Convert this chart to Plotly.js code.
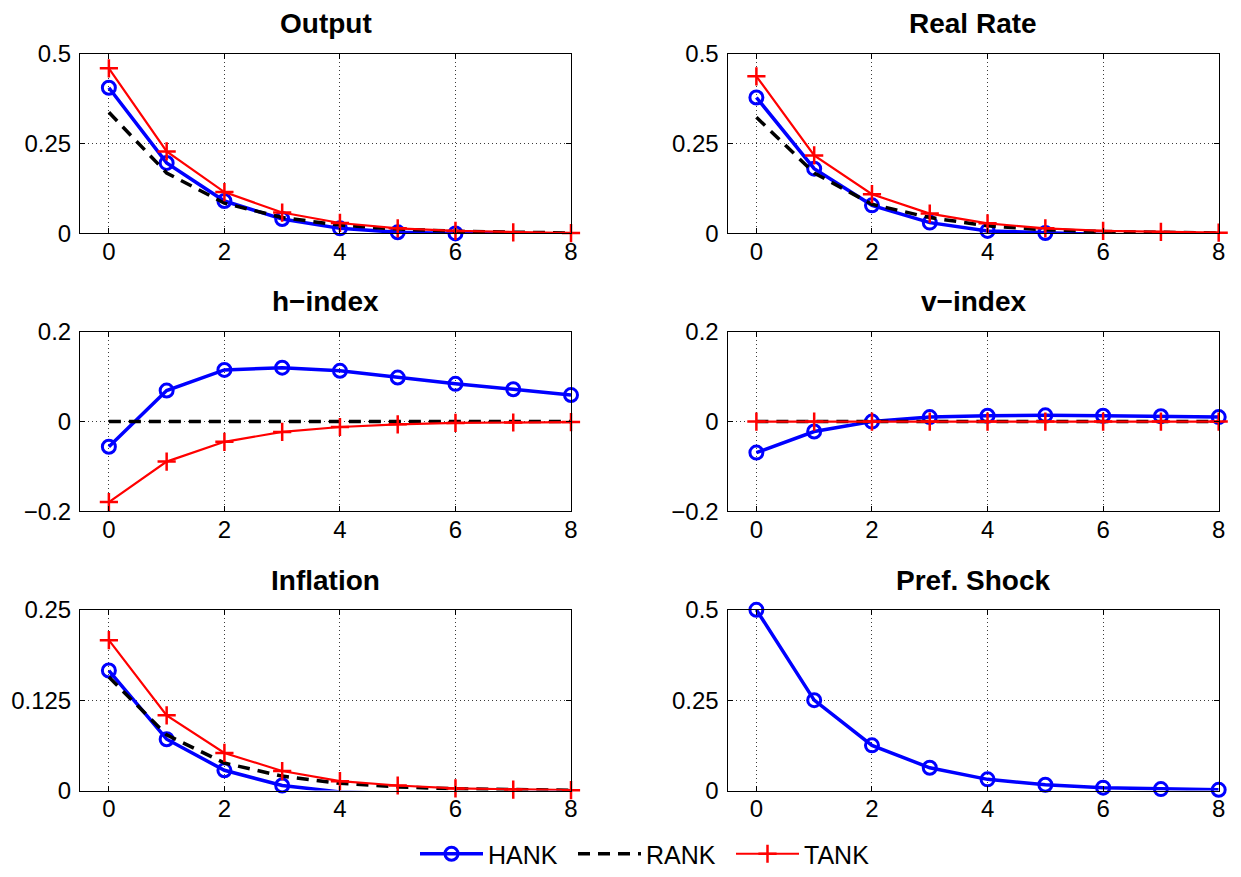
<!DOCTYPE html>
<html>
<head>
<meta charset="utf-8">
<script src="https://cdn.plot.ly/plotly-3.0.1.min.js"></script>
<style>
  html, body { margin: 0; padding: 0; background: #fff; }
  #chart { width: 1241px; height: 877px; }
</style>
</head>
<body>
<div id="chart"></div>
<script>
// ---------------- DATA ----------------
const horizon = [0, 1, 2, 3, 4, 5, 6, 7, 8];
const seriesNames = ['HANK', 'RANK', 'TANK'];
const panelTitles = ['Output', 'Real Rate', 'h\u2212index', 'v\u2212index', 'Inflation', 'Pref. Shock'];

const outputHANK = [0.405, 0.196, 0.090, 0.040, 0.014, 0.003, 0.000, -0.002, -0.003];
const outputRANK = [0.337, 0.168, 0.084, 0.044, 0.023, 0.012, 0.006, 0.003, 0.001];
const outputTANK = [0.459, 0.228, 0.115, 0.058, 0.029, 0.014, 0.007, 0.003, 0.001];

const realRateHANK = [0.378, 0.180, 0.078, 0.030, 0.007, 0.001, -0.003, -0.004, -0.004];
const realRateRANK = [0.323, 0.168, 0.081, 0.044, 0.021, 0.010, 0.005, 0.002, 0.001];
const realRateTANK = [0.437, 0.217, 0.109, 0.055, 0.028, 0.014, 0.007, 0.004, 0.002];

const hIndexHANK = [-0.056, 0.069, 0.115, 0.120, 0.113, 0.098, 0.084, 0.072, 0.059];
const hIndexRANK = [0, 0, 0, 0, 0, 0, 0, 0, 0];
const hIndexTANK = [-0.179, -0.089, -0.045, -0.023, -0.012, -0.006, -0.003, -0.002, -0.001];

const vIndexHANK = [-0.069, -0.022, 0.000, 0.010, 0.013, 0.014, 0.013, 0.012, 0.010];
const vIndexRANK = [0, 0, 0, 0, 0, 0, 0, 0, 0];
const vIndexTANK = [0, 0, 0, 0, 0, 0, 0, 0, 0];

const inflationHANK = [0.166, 0.071, 0.028, 0.007, -0.002, -0.004, -0.004, -0.003, -0.002];
const inflationRANK = [0.157, 0.077, 0.038, 0.020, 0.010, 0.005, 0.0025, 0.001, 0.0005];
const inflationTANK = [0.208, 0.104, 0.052, 0.027, 0.013, 0.007, 0.003, 0.0014, 0.0005];

const prefShockHANK = [0.5, 0.25, 0.125, 0.063, 0.031, 0.016, 0.008, 0.004, 0.002];

const xTickVals = [0, 2, 4, 6, 8];
const yTickValsA = [0, 0.25, 0.5];
const yTickTextA = ['0', '0.25', '0.5'];
const yTickValsB = [-0.2, 0, 0.2];
const yTickTextB = ['\u22120.2', '0', '0.2'];
const yTickValsC = [0, 0.125, 0.25];
const yTickTextC = ['0', '0.125', '0.25'];

// ---------------- STRUCTURE ----------------
const panelSeries = [
  [outputHANK, outputRANK, outputTANK],
  [realRateHANK, realRateRANK, realRateTANK],
  [hIndexHANK, hIndexRANK, hIndexTANK],
  [vIndexHANK, vIndexRANK, vIndexTANK],
  [inflationHANK, inflationRANK, inflationTANK],
  [prefShockHANK, null, null]
];
const panelYTicks = [
  [yTickValsA, yTickTextA, [0, 0.5]],
  [yTickValsA, yTickTextA, [0, 0.5]],
  [yTickValsB, yTickTextB, [-0.2, 0.2]],
  [yTickValsB, yTickTextB, [-0.2, 0.2]],
  [yTickValsC, yTickTextC, [0, 0.25]],
  [yTickValsA, yTickTextA, [0, 0.5]]
];

// ---------------- STYLE ----------------
const W = 1241, H = 877;
const colX = [[80, 571], [727.5, 1218.7]];
const rowY = [[54, 235], [334, 515], [614, 796]];
const titleY = [24, 304, 584];
const FONT = 'Liberation Sans, Arial, Helvetica, sans-serif';

const styles = [
  { line: { color: '#0000ff', width: 3.5 }, mode: 'lines+markers',
    marker: { symbol: 'circle-open', size: 13, color: '#0000ff', line: { width: 3, color: '#0000ff' } } },
  { line: { color: '#000000', width: 3.5, dash: '12px,8px' }, mode: 'lines' },
  { line: { color: '#ff0000', width: 2.2 }, mode: 'lines+markers',
    marker: { symbol: 'cross-thin-open', size: 13, color: '#ff0000', line: { width: 2.5, color: '#ff0000' } } }
];

const traces = [];
const layout = {
  width: W, height: H,
  margin: { l: 0, r: 0, t: 0, b: 0 },
  paper_bgcolor: '#ffffff',
  plot_bgcolor: '#ffffff',
  font: { family: FONT, color: '#000000', size: 24 },
  showlegend: true,
  legend: {
    orientation: 'h', x: 652 / W, xanchor: 'center', y: (H - 860) / H, yanchor: 'middle',
    font: { family: FONT, size: 25, color: '#000' }, itemwidth: 63, bgcolor: 'rgba(0,0,0,0)',
    traceorder: 'normal', entrywidth: 80, entrywidthmode: 'pixels'
  },
  annotations: []
};

for (let p = 0; p < 6; p++) {
  const row = Math.floor(p / 2), col = p % 2;
  const k = p + 1;
  const xName = 'x' + (k === 1 ? '' : k), yName = 'y' + (k === 1 ? '' : k);
  const xKey = 'xaxis' + (k === 1 ? '' : k), yKey = 'yaxis' + (k === 1 ? '' : k);
  const common = {
    showline: true, linecolor: '#000', linewidth: 1, mirror: 'ticks',
    ticks: 'inside', ticklen: 5, tickwidth: 1, tickcolor: '#000',
    showgrid: true, gridcolor: '#3a3a3a', gridwidth: 1, griddash: '1px,3px',
    zeroline: false, fixedrange: true, automargin: false,
    tickfont: { family: FONT, size: 24, color: '#000' }
  };
  layout[xKey] = Object.assign({}, common, {
    domain: [colX[col][0] / W, colX[col][1] / W], anchor: yName,
    range: [-0.5, 8], tickmode: 'array', tickvals: xTickVals,
    ticktext: xTickVals.map(String), ticklabelstandoff: -3
  });
  const yt = panelYTicks[p];
  layout[yKey] = Object.assign({}, common, {
    domain: [(H - rowY[row][1]) / H, (H - rowY[row][0]) / H], anchor: xName,
    range: yt[2], tickmode: 'array', tickvals: yt[0], ticktext: yt[1], ticklabelstandoff: 3
  });
  layout.annotations.push({
    text: panelTitles[p], xref: 'paper', yref: 'paper',
    x: (colX[col][0] + colX[col][1]) / 2 / W, y: (H - titleY[row]) / H,
    xanchor: 'center', yanchor: 'middle', showarrow: false,
    font: { family: FONT, size: 28, color: '#000', weight: 'bold' }
  });
  panelSeries[p].forEach((vals, s) => {
    if (!vals) return;
    const st = styles[s];
    traces.push(Object.assign({
      type: 'scatter', x: horizon, y: vals, name: seriesNames[s],
      xaxis: xName, yaxis: yName, cliponaxis: false,
      showlegend: p === 0, legendgroup: seriesNames[s], hoverinfo: 'skip'
    }, JSON.parse(JSON.stringify(st))));
  });
}

Plotly.newPlot('chart', traces, layout, { staticPlot: true, displayModeBar: false });
</script>
</body>
</html>
